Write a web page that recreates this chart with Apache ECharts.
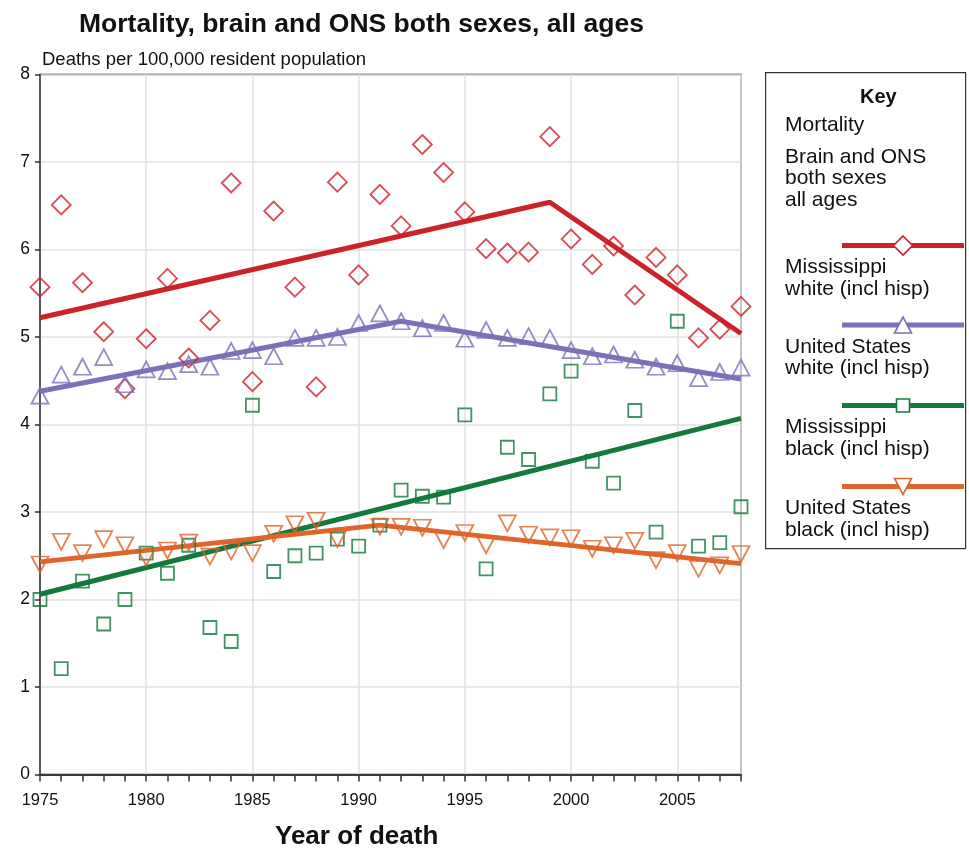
<!DOCTYPE html>
<html>
<head>
<meta charset="utf-8">
<script src="https://cdn.jsdelivr.net/npm/echarts@6/dist/echarts.min.js"></script>
<style>html,body{margin:0;padding:0;background:#fff}#c{width:969px;height:851px}</style>
</head>
<body>
<div id="c"></div>
<script>
const years = [1975,1976,1977,1978,1979,1980,1981,1982,1983,1984,1985,1986,1987,1988,1989,1990,1991,1992,1993,1994,1995,1996,1997,1998,1999,2000,2001,2002,2003,2004,2005,2006,2007,2008];
const msWhite = [5.57,6.51,5.62,5.06,4.41,4.98,5.67,4.76,5.19,6.76,4.49,6.44,5.57,4.43,6.77,5.71,6.63,6.27,7.20,6.88,6.43,6.01,5.96,5.97,7.29,6.12,5.83,6.04,5.48,5.91,5.71,4.99,5.09,5.35];
const usWhite = [4.33,4.57,4.66,4.77,4.46,4.63,4.61,4.69,4.66,4.84,4.85,4.78,4.99,4.99,5.00,5.16,5.27,5.18,5.10,5.16,4.98,5.08,4.99,5.01,4.99,4.85,4.78,4.80,4.74,4.66,4.70,4.53,4.60,4.65];
const msBlack = [2.00,1.21,2.21,1.72,2.00,2.53,2.30,2.62,1.68,1.52,4.22,2.32,2.50,2.53,2.69,2.61,2.85,3.25,3.18,3.17,4.11,2.35,3.74,3.60,4.35,4.61,3.58,3.33,4.16,2.77,5.18,2.61,2.65,3.06];
const usBlack = [2.40,2.66,2.53,2.69,2.62,2.48,2.56,2.65,2.49,2.55,2.53,2.75,2.86,2.90,2.69,null,2.83,2.83,2.82,2.68,2.76,2.62,2.87,2.74,2.71,2.70,2.58,2.62,2.67,2.45,2.53,2.35,2.39,2.52];

const msWhiteTrendX = [1975,1999,2008], msWhiteTrendY = [5.22,6.54,5.04];
const usWhiteTrendX = [1975,1992,2008], usWhiteTrendY = [4.38,5.18,4.52];
const msBlackTrendX = [1975,2008],      msBlackTrendY = [2.06,4.07];
const usBlackTrendX = [1975,1991,2008], usBlackTrendY = [2.43,2.85,2.41];

const yTicks = [0,1,2,3,4,5,6,7,8];
const xTickLabels = [1975,1980,1985,1990,1995,2000,2005];

const names = ['Mississippi\nwhite (incl hisp)','United States\nwhite (incl hisp)','Mississippi\nblack (incl hisp)','United States\nblack (incl hisp)'];
const colors = ['#cc2229','#7a72b8','#14793d','#e0652a'];

const FONT = '"Liberation Sans", Arial, sans-serif';

function pairs(xs, ys){ return xs.map((x,i)=>[x, ys[i]]); }

const scatterDefs = [
  {data: msWhite, symbol: 'diamond', size: [19,19], rotate: 0},
  {data: usWhite, symbol: 'triangle', size: [17,16], rotate: 0},
  {data: msBlack, symbol: 'rect', size: [13,13], rotate: 0},
  {data: usBlack, symbol: 'triangle', size: [17,16], rotate: 180}
];
const trendDefs = [
  pairs(msWhiteTrendX, msWhiteTrendY),
  pairs(usWhiteTrendX, usWhiteTrendY),
  pairs(msBlackTrendX, msBlackTrendY),
  pairs(usBlackTrendX, usBlackTrendY)
];

const series = [];
trendDefs.forEach((d,i)=>{
  series.push({
    type: 'line', name: names[i], data: d, xAxisIndex: 0,
    showSymbol: false, symbol: 'none', z: 2,
    lineStyle: {color: colors[i], width: 5},
    itemStyle: {color: colors[i]},
    silent: true, animation: false
  });
});
scatterDefs.forEach((s,i)=>{
  series.push({
    type: 'scatter', name: names[i] + ' pts', xAxisIndex: 0,
    data: years.map((y,k)=> s.data[k] == null ? null : [y, s.data[k]]).filter(p=>p),
    symbol: s.symbol, symbolSize: s.size, symbolRotate: s.rotate, z: 3,
    itemStyle: {color: 'rgba(255,255,255,0)', borderColor: colors[i], borderWidth: 1.8},
    animation: false
  });
});

// key drawn as graphic elements
const graphics = [];
graphics.push({type:'rect', left: 765, top: 72, shape:{width:200, height:476}, style:{fill:'#fff', stroke:'#333', lineWidth:1.2}, z: 10});
graphics.push({type:'text', left: 860, top: 87, style:{text:'Key', font:'bold 20px ' + FONT, fill:'#111'}, z: 11});
graphics.push({type:'text', left: 785, top: 115, style:{text:'Mortality', font:'21px ' + FONT, fill:'#111'}, z: 11});
graphics.push({type:'text', left: 785, top: 146, style:{text:'Brain and ONS\nboth sexes\nall ages', font:'21px ' + FONT, fill:'#111', lineHeight: 21.7}, z: 11});
const legLineY = [245.5, 325, 405.5, 486.5];
const legSym = [
  {symbol:'diamond', w:19, h:19, rot:0},
  {symbol:'triangle', w:17, h:16, rot:0},
  {symbol:'rect', w:13, h:13, rot:0},
  {symbol:'triangle', w:17, h:16, rot:180}
];
legLineY.forEach((y,i)=>{
  graphics.push({type:'line', shape:{x1:842, y1:y, x2:964, y2:y}, style:{stroke:colors[i], lineWidth:5}, z: 11});
  let shape;
  const cx = 903, cy = y, w = legSym[i].w, h = legSym[i].h;
  if (legSym[i].symbol === 'diamond') {
    shape = {type:'polygon', shape:{points:[[cx,cy-h/2],[cx+w/2,cy],[cx,cy+h/2],[cx-w/2,cy]]}};
  } else if (legSym[i].symbol === 'rect') {
    shape = {type:'rect', shape:{x:cx-w/2, y:cy-h/2, width:w, height:h}};
  } else if (legSym[i].rot === 0) {
    shape = {type:'polygon', shape:{points:[[cx,cy-h/2],[cx+w/2,cy+h/2],[cx-w/2,cy+h/2]]}};
  } else {
    shape = {type:'polygon', shape:{points:[[cx-w/2,cy-h/2],[cx+w/2,cy-h/2],[cx,cy+h/2]]}};
  }
  shape.style = {fill:'#fff', stroke:colors[i], lineWidth:1.6};
  shape.z = 12;
  graphics.push(shape);
  graphics.push({type:'text', left: 785, top: y + 11, style:{text:names[i], font:'21px ' + FONT, fill:'#111', lineHeight: 21.7}, z: 11});
});
graphics.push({type:'text', left: 275, top: 824, style:{text:'Year of death', font:'bold 26px ' + FONT, fill:'#111'}, z: 11});

const chart = echarts.init(document.getElementById('c'), null, {renderer:'canvas'});
chart.setOption({
  animation: false,
  backgroundColor: '#fff',
  title: {
    text: 'Mortality, brain and ONS both sexes, all ages',
    left: 74, top: 6,
    textStyle: {fontFamily: FONT, fontSize: 26.5, fontWeight: 'bold', color: '#111'}
  },
  grid: {left: 40, right: 228, top: 74.5, bottom: 76.5, show: true, borderColor: '#222', borderWidth: 1.3, backgroundColor: 'transparent'},
  xAxis: [
    {
      type: 'value', min: 1975, max: 2008, interval: 5, position: 'bottom',
      axisLine: {show: true, lineStyle: {color: '#333', width: 1.5}},
      axisTick: {show: false},
      axisLabel: {
        margin: 17, color: '#111', fontFamily: FONT, fontSize: 16.5,
        formatter: v => xTickLabels.indexOf(v) >= 0 ? String(v) : ''
      },
      splitLine: {show: true, lineStyle: {color: '#e2e2e2', width: 1.5}}
    },
    {
      type: 'value', min: 1975, max: 2008, interval: 1, position: 'bottom',
      axisLine: {show: true, lineStyle: {color: '#333', width: 1.5}},
      axisTick: {show: true, length: 7, lineStyle: {color: '#333', width: 1.5}},
      axisLabel: {show: false},
      splitLine: {show: false}
    }
  ],
  yAxis: {
    type: 'value', min: 0, max: 8, interval: 1,
    name: 'Deaths per 100,000 resident population',
    nameLocation: 'end', nameGap: 5,
    nameTextStyle: {align: 'left', fontFamily: FONT, fontSize: 18.5, color: '#111', padding: [0,0,0,2]},
    axisLine: {show: true, lineStyle: {color: '#333', width: 1.5}},
    axisTick: {show: true, length: 5, lineStyle: {color: '#333', width: 1.5}},
    axisLabel: {margin: 10, color: '#111', fontFamily: FONT, fontSize: 17.5,
      formatter: v => yTicks.indexOf(v) >= 0 ? String(v) : ''},
    splitLine: {show: true, lineStyle: {color: '#e2e2e2', width: 1.5}}
  },
  series: series,
  graphic: graphics
});
</script>
</body>
</html>
